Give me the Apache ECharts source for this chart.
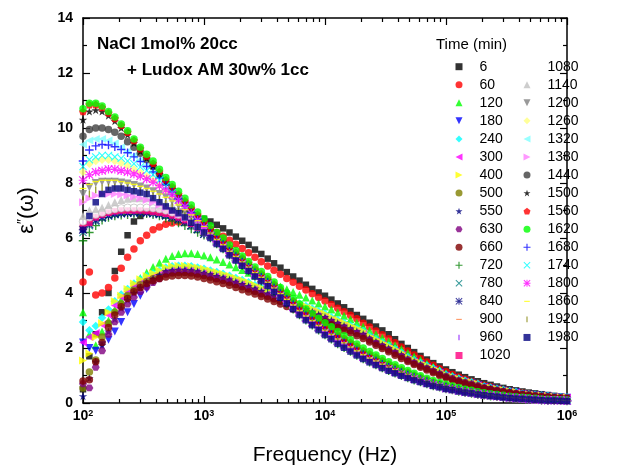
<!DOCTYPE html>
<html><head><meta charset="utf-8">
<script src="https://cdn.jsdelivr.net/npm/echarts@6/dist/echarts.min.js"></script>
<style>html,body{margin:0;padding:0;background:#fff}#c{width:618px;height:471px}</style>
</head><body><div id="c"></div>
<script>
const freqHz = [100,112.9,127.4,143.8,162.4,183.3,206.9,233.6,263.7,297.6,336,379.3,428.1,483.3,545.5,615.8,695.2,784.7,885.8,
1000,1129,1274,1438,1624,1833,2069,2336,2637,2976,3360,3793,4281,4833,5455,6158,6952,7847,8858,
10000,11290,12740,14380,16240,18330,20690,23360,26370,29760,33600,37930,42810,48330,54550,61580,69520,78470,88580,
100000,112900,127400,143800,162400,183300,206900,233600,263700,297600,336000,379300,428100,483300,545500,615800,695200,784700,885800,
1000000];
const xTickLabels = [100,1000,10000,100000,1000000];
const xMinorTicks = [200,300,400,500,600,700,800,900,2000,3000,4000,5000,6000,7000,8000,9000,20000,30000,40000,50000,60000,70000,80000,90000,200000,300000,400000,500000,600000,700000,800000,900000];
const timeLegendCol1 = ['6','60','120','180','240','300','400','500','550','630','660','720','780','840','900','960','1020'];
const timeLegendCol2 = ['1080','1140','1200','1260','1320','1380','1440','1500','1560','1620','1680','1740','1800','1860','1920','1980'];

const t6 = [0.5,1.7,2.5,3.3,4.0,4.8,5.5,6.1,6.6,6.8,6.95,7.0,7.0,7.0,6.98,6.95,6.9,6.85,6.78,6.7,6.6,6.48,6.35,6.2,6.05,5.9,5.75,5.58,5.42,5.25,5.08,4.92,4.76,4.6,4.45,4.3,4.15,4.02,3.9,3.76,3.62,3.48,3.34,3.2,3.06,2.92,2.78,2.64,2.5,2.32,2.15,2.0,1.85,1.71,1.58,1.45,1.33,1.22,1.12,1.03,0.94,0.86,0.79,0.72,0.66,0.6,0.55,0.5,0.46,0.42,0.38,0.35,0.32,0.29,0.26,0.23,0.21];
const t60 = [4.4,4.76,3.93,4.0,4.2,4.55,4.9,5.3,5.6,5.9,6.1,6.3,6.4,6.5,6.55,6.58,6.58,6.55,6.5,6.42,6.32,6.2,6.06,5.92,5.77,5.62,5.46,5.3,5.14,4.98,4.83,4.68,4.53,4.39,4.25,4.11,3.97,3.84,3.71,3.58,3.45,3.32,3.19,3.06,2.9,2.76,2.62,2.48,2.34,2.19,2.04,1.89,1.75,1.62,1.49,1.37,1.25,1.14,1.04,0.95,0.86,0.78,0.71,0.65,0.59,0.53,0.48,0.44,0.4,0.36,0.33,0.3,0.27,0.25,0.22,0.2,0.18];
const t120 = [3.3,2.5,2.1,2.6,3.0,3.4,3.75,4.05,4.3,4.55,4.75,4.95,5.1,5.25,5.35,5.42,5.45,5.45,5.42,5.36,5.3,5.22,5.13,5.04,4.94,4.84,4.74,4.64,4.54,4.44,4.34,4.24,4.14,4.04,3.94,3.84,3.73,3.62,3.51,3.4,3.29,3.17,3.05,2.92,2.78,2.64,2.5,2.37,2.24,2.1,1.96,1.82,1.69,1.56,1.44,1.32,1.2,1.09,0.99,0.9,0.82,0.74,0.67,0.61,0.55,0.5,0.45,0.41,0.37,0.34,0.31,0.28,0.25,0.23,0.21,0.19,0.17];
const t180 = [2.2,2.0,1.9,2.1,2.3,2.6,2.95,3.3,3.6,3.9,4.15,4.4,4.6,4.79,4.83,4.85,4.85,4.83,4.79,4.74,4.68,4.62,4.56,4.49,4.41,4.33,4.25,4.16,4.07,3.98,3.89,3.8,3.71,3.6,3.5,3.41,3.32,3.22,3.13,3.01,2.91,2.81,2.71,2.61,2.51,2.35,2.23,2.11,1.99,1.87,1.75,1.61,1.5,1.4,1.3,1.2,1.1,0.99,0.91,0.84,0.77,0.71,0.65,0.58,0.53,0.49,0.45,0.41,0.38,0.33,0.3,0.28,0.26,0.24,0.22,0.2,0.19];
const t240 = [2.95,2.65,2.8,3.1,3.4,3.7,3.95,4.15,4.35,4.5,4.62,4.72,4.82,4.93,4.97,4.99,4.99,4.97,4.93,4.88,4.82,4.76,4.7,4.63,4.55,4.47,4.39,4.29,4.2,4.11,4.02,3.93,3.84,3.72,3.62,3.53,3.44,3.34,3.25,3.12,3.02,2.92,2.82,2.72,2.62,2.44,2.32,2.2,2.08,1.96,1.84,1.67,1.56,1.46,1.36,1.26,1.16,1.04,0.96,0.89,0.82,0.76,0.7,0.61,0.56,0.52,0.48,0.44,0.41,0.35,0.32,0.3,0.28,0.26,0.24,0.22,0.21];
const t300 = [2.2,2.4,2.55,2.85,3.2,3.55,3.85,4.05,4.25,4.4,4.52,4.62,4.7,4.79,4.83,4.85,4.85,4.83,4.79,4.74,4.68,4.62,4.56,4.49,4.41,4.33,4.25,4.16,4.07,3.98,3.89,3.8,3.71,3.6,3.5,3.41,3.32,3.22,3.13,3.01,2.91,2.81,2.71,2.61,2.51,2.35,2.23,2.11,1.99,1.87,1.75,1.61,1.5,1.4,1.3,1.2,1.1,0.99,0.91,0.84,0.77,0.71,0.65,0.58,0.53,0.49,0.45,0.41,0.38,0.33,0.3,0.28,0.26,0.24,0.22,0.2,0.19];
const t400 = [1.55,1.8,2.4,2.9,3.3,3.7,3.9,4.15,4.35,4.5,4.62,4.72,4.82,4.93,4.97,4.99,4.99,4.97,4.93,4.88,4.82,4.76,4.7,4.63,4.55,4.47,4.39,4.29,4.2,4.11,4.02,3.93,3.84,3.72,3.62,3.53,3.44,3.34,3.25,3.12,3.02,2.92,2.82,2.72,2.62,2.44,2.32,2.2,2.08,1.96,1.84,1.67,1.56,1.46,1.36,1.26,1.16,1.04,0.96,0.89,0.82,0.76,0.7,0.61,0.56,0.52,0.48,0.44,0.41,0.35,0.32,0.3,0.28,0.26,0.24,0.22,0.21];
const t500 = [0.55,1.13,1.56,2.4,2.9,3.3,3.6,3.9,4.1,4.3,4.42,4.52,4.6,4.69,4.73,4.75,4.75,4.73,4.69,4.64,4.58,4.52,4.46,4.39,4.31,4.23,4.15,4.06,3.97,3.88,3.79,3.7,3.61,3.51,3.41,3.32,3.23,3.13,3.04,2.93,2.83,2.73,2.63,2.53,2.43,2.29,2.17,2.05,1.93,1.81,1.69,1.56,1.45,1.35,1.25,1.15,1.05,0.96,0.88,0.81,0.74,0.68,0.62,0.55,0.5,0.46,0.42,0.38,0.35,0.32,0.29,0.27,0.25,0.23,0.21,0.19,0.18];
const t550 = [0.25,0.9,1.5,2.1,2.6,3.05,3.45,3.75,4.0,4.2,4.38,4.52,4.65,4.79,4.83,4.85,4.85,4.83,4.79,4.74,4.68,4.62,4.56,4.49,4.41,4.33,4.25,4.16,4.07,3.98,3.89,3.8,3.71,3.6,3.5,3.41,3.32,3.22,3.13,3.01,2.91,2.81,2.71,2.61,2.51,2.35,2.23,2.11,1.99,1.87,1.75,1.61,1.5,1.4,1.3,1.2,1.1,0.99,0.91,0.84,0.77,0.71,0.65,0.58,0.53,0.49,0.45,0.41,0.38,0.33,0.3,0.28,0.26,0.24,0.22,0.2,0.19];
const t630 = [0.7,0.55,1.3,1.9,2.5,2.95,3.3,3.6,3.85,4.05,4.22,4.38,4.52,4.69,4.73,4.75,4.75,4.73,4.69,4.64,4.58,4.52,4.46,4.39,4.31,4.23,4.15,4.06,3.97,3.88,3.79,3.7,3.61,3.51,3.41,3.32,3.23,3.13,3.04,2.93,2.83,2.73,2.63,2.53,2.43,2.29,2.17,2.05,1.93,1.81,1.69,1.56,1.45,1.35,1.25,1.15,1.05,0.96,0.88,0.81,0.74,0.68,0.62,0.55,0.5,0.46,0.42,0.38,0.35,0.32,0.29,0.27,0.25,0.23,0.21,0.19,0.18];
const t660 = [0.8,0.85,1.5,2.2,2.75,3.2,3.5,3.8,4.05,4.2,4.35,4.45,4.53,4.58,4.62,4.64,4.64,4.62,4.58,4.53,4.47,4.41,4.35,4.28,4.2,4.12,4.04,3.96,3.87,3.78,3.69,3.6,3.51,3.42,3.32,3.23,3.14,3.04,2.95,2.85,2.75,2.65,2.55,2.45,2.35,2.22,2.1,1.98,1.86,1.74,1.62,1.51,1.4,1.3,1.2,1.1,1.0,0.92,0.84,0.77,0.7,0.64,0.58,0.53,0.48,0.44,0.4,0.36,0.33,0.3,0.27,0.25,0.23,0.21,0.19,0.17,0.16];
const t720 = [5.9,6.2,6.45,6.65,6.75,6.8,6.83,6.85,6.87,6.88,6.88,6.85,6.8,6.72,6.62,6.55,6.45,6.33,6.2,6.1,6.0,5.78,5.6,5.37,5.18,4.99,4.8,4.6,4.43,4.25,4.04,3.83,3.62,3.41,3.2,3.01,2.83,2.65,2.47,2.32,2.15,2.01,1.87,1.73,1.6,1.48,1.38,1.27,1.17,1.08,0.99,0.91,0.83,0.76,0.69,0.62,0.57,0.51,0.47,0.42,0.38,0.35,0.31,0.28,0.25,0.23,0.2,0.18,0.16,0.15,0.13,0.12,0.1,0.09,0.09,0.08,0.07];
const t780 = [6.2,6.45,6.6,6.72,6.8,6.85,6.88,6.9,6.91,6.91,6.9,6.88,6.85,6.8,6.74,6.66,6.56,6.44,6.3,6.14,6.09,5.86,5.68,5.45,5.25,5.06,4.87,4.67,4.5,4.32,4.11,3.9,3.7,3.49,3.28,3.09,2.91,2.74,2.56,2.41,2.24,2.1,1.96,1.81,1.68,1.56,1.45,1.34,1.24,1.14,1.05,0.96,0.88,0.81,0.73,0.66,0.61,0.54,0.5,0.45,0.4,0.37,0.33,0.3,0.27,0.25,0.22,0.19,0.17,0.16,0.14,0.13,0.11,0.1,0.1,0.09,0.08];
const t840 = [6.3,6.5,6.65,6.75,6.82,6.87,6.9,6.92,6.93,6.93,6.92,6.9,6.87,6.82,6.76,6.68,6.58,6.46,6.32,6.15,6.09,5.86,5.68,5.45,5.25,5.06,4.87,4.67,4.5,4.32,4.11,3.9,3.7,3.49,3.28,3.09,2.91,2.74,2.56,2.41,2.24,2.1,1.96,1.81,1.68,1.56,1.45,1.34,1.24,1.14,1.05,0.96,0.88,0.81,0.73,0.66,0.61,0.54,0.5,0.45,0.4,0.37,0.33,0.3,0.27,0.25,0.22,0.19,0.17,0.16,0.14,0.13,0.11,0.1,0.1,0.09,0.08];
const t900 = [6.45,6.6,6.72,6.8,6.86,6.9,6.93,6.95,6.96,6.96,6.95,6.93,6.9,6.85,6.79,6.71,6.61,6.49,6.34,6.17,6.09,5.86,5.68,5.45,5.25,5.06,4.87,4.67,4.5,4.32,4.11,3.9,3.7,3.49,3.28,3.09,2.91,2.74,2.56,2.41,2.24,2.1,1.96,1.81,1.68,1.56,1.45,1.34,1.24,1.14,1.05,0.96,0.88,0.81,0.73,0.66,0.61,0.54,0.5,0.45,0.4,0.37,0.33,0.3,0.27,0.25,0.22,0.19,0.17,0.16,0.14,0.13,0.11,0.1,0.1,0.09,0.08];
const t960 = [6.5,6.65,6.75,6.82,6.88,6.92,6.95,6.97,6.98,6.98,6.97,6.95,6.92,6.88,6.82,6.74,6.64,6.52,6.36,6.18,6.09,5.86,5.68,5.45,5.25,5.06,4.87,4.67,4.5,4.32,4.11,3.9,3.7,3.49,3.28,3.09,2.91,2.74,2.56,2.41,2.24,2.1,1.96,1.81,1.68,1.56,1.45,1.34,1.24,1.14,1.05,0.96,0.88,0.81,0.73,0.66,0.61,0.54,0.5,0.45,0.4,0.37,0.33,0.3,0.27,0.25,0.22,0.19,0.17,0.16,0.14,0.13,0.11,0.1,0.1,0.09,0.08];
const t1020 = [6.4,6.55,6.75,6.85,6.92,6.97,7.0,7.0,7.0,7.0,6.98,6.95,6.92,6.88,6.82,6.75,6.65,6.52,6.38,6.22,6.18,5.95,5.76,5.52,5.33,5.13,4.94,4.74,4.57,4.39,4.18,3.98,3.77,3.57,3.36,3.17,3.0,2.82,2.65,2.5,2.33,2.19,2.04,1.9,1.76,1.64,1.53,1.41,1.3,1.2,1.11,1.02,0.93,0.85,0.77,0.7,0.64,0.58,0.53,0.48,0.43,0.39,0.35,0.32,0.29,0.26,0.23,0.21,0.19,0.17,0.15,0.14,0.12,0.11,0.11,0.1,0.09];
const t1080 = [6.6,6.75,6.85,6.92,7.0,7.05,7.08,7.1,7.1,7.1,7.1,7.08,7.05,7.0,6.93,6.85,6.75,6.6,6.42,6.22,6.09,5.86,5.68,5.45,5.25,5.06,4.87,4.67,4.5,4.32,4.11,3.9,3.7,3.49,3.28,3.09,2.91,2.74,2.56,2.41,2.24,2.1,1.96,1.81,1.68,1.56,1.45,1.34,1.24,1.14,1.05,0.96,0.88,0.81,0.73,0.66,0.61,0.54,0.5,0.45,0.4,0.37,0.33,0.3,0.27,0.25,0.22,0.19,0.17,0.16,0.14,0.13,0.11,0.1,0.1,0.09,0.08];
const t1140 = [6.8,7.0,7.05,7.1,7.2,7.3,7.38,7.43,7.45,7.45,7.45,7.42,7.38,7.3,7.2,7.07,6.92,6.74,6.54,6.32,6.09,5.86,5.68,5.45,5.25,5.06,4.87,4.67,4.5,4.32,4.11,3.9,3.7,3.49,3.28,3.09,2.91,2.74,2.56,2.41,2.24,2.1,1.96,1.81,1.68,1.56,1.45,1.34,1.24,1.14,1.05,0.96,0.88,0.81,0.73,0.66,0.61,0.54,0.5,0.45,0.4,0.37,0.33,0.3,0.27,0.25,0.22,0.19,0.17,0.16,0.14,0.13,0.11,0.1,0.1,0.09,0.08];
const t1200 = [7.6,7.85,8.0,8.05,8.05,8.05,8.02,7.98,7.93,7.87,7.8,7.7,7.6,7.48,7.34,7.18,7.0,6.8,6.58,6.35,6.09,5.86,5.68,5.45,5.25,5.06,4.87,4.67,4.5,4.32,4.11,3.9,3.7,3.49,3.28,3.09,2.91,2.74,2.56,2.41,2.24,2.1,1.96,1.81,1.68,1.56,1.45,1.34,1.24,1.14,1.05,0.96,0.88,0.81,0.73,0.66,0.61,0.54,0.5,0.45,0.4,0.37,0.33,0.3,0.27,0.25,0.22,0.19,0.17,0.16,0.14,0.13,0.11,0.1,0.1,0.09,0.08];
const t1260 = [8.4,8.7,8.8,8.85,8.85,8.8,8.72,8.62,8.5,8.38,8.25,8.1,7.93,7.75,7.55,7.35,7.12,6.9,6.66,6.43,6.18,5.95,5.76,5.52,5.33,5.13,4.94,4.74,4.57,4.39,4.18,3.98,3.77,3.57,3.36,3.17,3.0,2.82,2.65,2.5,2.33,2.19,2.04,1.9,1.76,1.64,1.53,1.41,1.3,1.2,1.11,1.02,0.93,0.85,0.77,0.7,0.64,0.58,0.53,0.48,0.43,0.39,0.35,0.32,0.29,0.26,0.23,0.21,0.19,0.17,0.15,0.14,0.12,0.11,0.11,0.1,0.09];
const t1320 = [9.4,9.55,9.6,9.6,9.55,9.45,9.3,9.15,9.0,8.85,8.65,8.45,8.2,7.95,7.7,7.45,7.2,6.95,6.7,6.45,6.18,5.95,5.76,5.52,5.33,5.13,4.94,4.74,4.57,4.39,4.18,3.98,3.77,3.57,3.36,3.17,3.0,2.82,2.65,2.5,2.33,2.19,2.04,1.9,1.76,1.64,1.53,1.41,1.3,1.2,1.11,1.02,0.93,0.85,0.77,0.7,0.64,0.58,0.53,0.48,0.43,0.39,0.35,0.32,0.29,0.26,0.23,0.21,0.19,0.17,0.15,0.14,0.12,0.11,0.11,0.1,0.09];
const t1380 = [7.3,7.45,7.55,7.6,7.6,7.6,7.58,7.55,7.5,7.45,7.38,7.3,7.2,7.1,6.98,6.85,6.72,6.58,6.42,6.25,6.18,5.95,5.76,5.52,5.33,5.13,4.94,4.74,4.57,4.39,4.18,3.98,3.77,3.57,3.36,3.17,3.0,2.82,2.65,2.5,2.33,2.19,2.04,1.9,1.76,1.64,1.53,1.41,1.3,1.2,1.11,1.02,0.93,0.85,0.77,0.7,0.64,0.58,0.53,0.48,0.43,0.39,0.35,0.32,0.29,0.26,0.23,0.21,0.19,0.17,0.15,0.14,0.12,0.11,0.11,0.1,0.09];
const t1440 = [9.7,9.95,10.0,10.0,9.95,9.85,9.7,9.5,9.3,9.08,8.85,8.6,8.32,8.03,7.78,7.52,7.27,7.02,6.76,6.52,6.27,6.03,5.84,5.6,5.4,5.21,5.01,4.81,4.64,4.46,4.26,4.05,3.85,3.64,3.44,3.26,3.08,2.91,2.74,2.59,2.42,2.27,2.13,1.98,1.84,1.71,1.6,1.48,1.37,1.27,1.16,1.07,0.98,0.9,0.82,0.74,0.68,0.61,0.56,0.5,0.45,0.42,0.37,0.33,0.3,0.28,0.25,0.22,0.2,0.19,0.17,0.15,0.13,0.12,0.11,0.1,0.09];
const t1500 = [10.3,10.6,10.65,10.6,10.45,10.25,10.0,9.75,9.45,9.15,8.9,8.62,8.33,8.03,7.78,7.52,7.27,7.02,6.76,6.52,6.27,6.03,5.84,5.6,5.4,5.21,5.01,4.81,4.64,4.46,4.26,4.05,3.85,3.64,3.44,3.26,3.08,2.91,2.74,2.59,2.42,2.27,2.13,1.98,1.84,1.71,1.6,1.48,1.37,1.27,1.16,1.07,0.98,0.9,0.82,0.74,0.68,0.61,0.56,0.5,0.45,0.42,0.37,0.33,0.3,0.28,0.25,0.22,0.2,0.19,0.17,0.15,0.13,0.12,0.11,0.1,0.09];
const t1560 = [10.6,10.85,10.85,10.75,10.55,10.35,10.1,9.85,9.55,9.25,8.98,8.72,8.42,8.12,7.87,7.6,7.35,7.1,6.85,6.6,6.36,6.12,5.92,5.67,5.48,5.28,5.08,4.88,4.71,4.53,4.33,4.13,3.92,3.72,3.52,3.34,3.17,2.99,2.83,2.68,2.51,2.36,2.21,2.07,1.92,1.79,1.68,1.55,1.43,1.33,1.22,1.13,1.03,0.94,0.86,0.78,0.71,0.65,0.59,0.53,0.48,0.44,0.39,0.35,0.32,0.29,0.26,0.24,0.22,0.2,0.18,0.16,0.14,0.13,0.12,0.11,0.1];
const t1620 = [10.7,10.9,10.9,10.8,10.6,10.4,10.15,9.9,9.6,9.3,9.05,8.8,8.5,8.2,7.95,7.7,7.45,7.2,6.95,6.7,6.45,6.2,6.0,5.75,5.55,5.35,5.15,4.95,4.78,4.6,4.4,4.2,4.0,3.8,3.6,3.42,3.25,3.08,2.92,2.77,2.6,2.45,2.3,2.15,2.0,1.87,1.75,1.62,1.5,1.39,1.28,1.18,1.08,0.99,0.9,0.82,0.75,0.68,0.62,0.56,0.5,0.46,0.41,0.37,0.34,0.31,0.28,0.25,0.23,0.21,0.19,0.17,0.15,0.14,0.13,0.12,0.11];
const t1680 = [8.8,9.2,9.35,9.4,9.38,9.32,9.22,9.1,8.95,8.78,8.6,8.4,8.18,7.93,7.67,7.42,7.17,6.92,6.68,6.44,6.18,5.95,5.76,5.52,5.33,5.13,4.94,4.74,4.57,4.39,4.18,3.98,3.77,3.57,3.36,3.17,3.0,2.82,2.65,2.5,2.33,2.19,2.04,1.9,1.76,1.64,1.53,1.41,1.3,1.2,1.11,1.02,0.93,0.85,0.77,0.7,0.64,0.58,0.53,0.48,0.43,0.39,0.35,0.32,0.29,0.26,0.23,0.21,0.19,0.17,0.15,0.14,0.12,0.11,0.11,0.1,0.09];
const t1740 = [8.6,8.85,8.95,9.0,9.0,8.95,8.9,8.8,8.7,8.58,8.45,8.3,8.1,7.88,7.65,7.4,7.15,6.9,6.64,6.38,6.09,5.86,5.68,5.45,5.25,5.06,4.87,4.67,4.5,4.32,4.11,3.9,3.7,3.49,3.28,3.09,2.91,2.74,2.56,2.41,2.24,2.1,1.96,1.81,1.68,1.56,1.45,1.34,1.24,1.14,1.05,0.96,0.88,0.81,0.73,0.66,0.61,0.54,0.5,0.45,0.4,0.37,0.33,0.3,0.27,0.25,0.22,0.19,0.17,0.16,0.14,0.13,0.11,0.1,0.1,0.09,0.08];
const t1800 = [8.1,8.3,8.4,8.45,8.5,8.5,8.45,8.4,8.33,8.25,8.15,8.03,7.9,7.75,7.58,7.38,7.15,6.9,6.64,6.38,6.09,5.86,5.68,5.45,5.25,5.06,4.87,4.67,4.5,4.32,4.11,3.9,3.7,3.49,3.28,3.09,2.91,2.74,2.56,2.41,2.24,2.1,1.96,1.81,1.68,1.56,1.45,1.34,1.24,1.14,1.05,0.96,0.88,0.81,0.73,0.66,0.61,0.54,0.5,0.45,0.4,0.37,0.33,0.3,0.27,0.25,0.22,0.19,0.17,0.16,0.14,0.13,0.11,0.1,0.1,0.09,0.08];
const t1860 = [7.8,7.95,8.05,8.1,8.1,8.1,8.05,8.0,7.95,7.88,7.8,7.7,7.6,7.48,7.35,7.2,7.03,6.84,6.63,6.42,6.18,5.95,5.76,5.52,5.33,5.13,4.94,4.74,4.57,4.39,4.18,3.98,3.77,3.57,3.36,3.17,3.0,2.82,2.65,2.5,2.33,2.19,2.04,1.9,1.76,1.64,1.53,1.41,1.3,1.2,1.11,1.02,0.93,0.85,0.77,0.7,0.64,0.58,0.53,0.48,0.43,0.39,0.35,0.32,0.29,0.26,0.23,0.21,0.19,0.17,0.15,0.14,0.12,0.11,0.11,0.1,0.09];
const t1920 = [7.4,7.6,7.75,7.82,7.85,7.85,7.83,7.8,7.75,7.7,7.62,7.52,7.4,7.27,7.13,6.98,6.8,6.6,6.4,6.2,6.09,5.86,5.68,5.45,5.25,5.06,4.87,4.67,4.5,4.32,4.11,3.9,3.7,3.49,3.28,3.09,2.91,2.74,2.56,2.41,2.24,2.1,1.96,1.81,1.68,1.56,1.45,1.34,1.24,1.14,1.05,0.96,0.88,0.81,0.73,0.66,0.61,0.54,0.5,0.45,0.4,0.37,0.33,0.3,0.27,0.25,0.22,0.19,0.17,0.16,0.14,0.13,0.11,0.1,0.1,0.09,0.08];
const t1980 = [6.3,6.8,7.3,7.6,7.75,7.8,7.8,7.75,7.7,7.65,7.6,7.45,7.3,7.15,7.0,6.9,6.75,6.55,6.4,6.2,6.0,5.78,5.6,5.37,5.18,4.99,4.8,4.6,4.43,4.25,4.04,3.83,3.62,3.41,3.2,3.01,2.83,2.65,2.47,2.32,2.15,2.01,1.87,1.73,1.6,1.48,1.38,1.27,1.17,1.08,0.99,0.91,0.83,0.76,0.69,0.62,0.57,0.51,0.47,0.42,0.38,0.35,0.31,0.28,0.25,0.23,0.2,0.18,0.16,0.15,0.13,0.12,0.1,0.09,0.09,0.08,0.07];

const valuesByTime = {'6':t6,'60':t60,'120':t120,'180':t180,'240':t240,'300':t300,'400':t400,'500':t500,'550':t550,'630':t630,'660':t660,'720':t720,'780':t780,'840':t840,'900':t900,'960':t960,'1020':t1020,'1080':t1080,'1140':t1140,'1200':t1200,'1260':t1260,'1320':t1320,'1380':t1380,'1440':t1440,'1500':t1500,'1560':t1560,'1620':t1620,'1680':t1680,'1740':t1740,'1800':t1800,'1860':t1860,'1920':t1920,'1980':t1980};

const TRI_UP = 'path://M5,0L10,10L0,10Z';
const TRI_DN = 'path://M0,0L10,0L5,10Z';
const TRI_LT = 'path://M10,0L10,10L0,5Z';
const TRI_RT = 'path://M0,0L10,5L0,10Z';
const STAR = 'path://M5,0L6.2,3.6L10,3.6L6.9,5.9L8.1,9.5L5,7.3L1.9,9.5L3.1,5.9L0,3.6L3.8,3.6Z';
const HEX = 'path://M0,0M10,10M2.5,0.7L7.5,0.7L10,5L7.5,9.3L2.5,9.3L0,5Z';
const PENT = 'path://M5,0L10,3.8L8.1,9.5L1.9,9.5L0,3.8Z';
const PLUS = 'path://M4.2,0L5.8,0L5.8,4.2L10,4.2L10,5.8L5.8,5.8L5.8,10L4.2,10L4.2,5.8L0,5.8L0,4.2L4.2,4.2Z';
const XMARK = 'path://M1,0L5,4L9,0L10,1L6,5L10,9L9,10L5,6L1,10L0,9L4,5L0,1Z';
const ASTER = 'path://M4.3,0L5.7,0L5.7,4.3L10,4.3L10,5.7L5.7,5.7L5.7,10L4.3,10L4.3,5.7L0,5.7L0,4.3L4.3,4.3ZM1,0L5,4L9,0L10,1L6,5L10,9L9,10L5,6L1,10L0,9L4,5L0,1Z';
const DASH = 'path://M0,0M10,10M1,4.2L9,4.2L9,5.8L1,5.8Z';
const VBAR = 'path://M0,0M10,10M4.2,1L5.8,1L5.8,9L4.2,9Z';

const styleByTime = {
  '6':['rect','#000000',6.5], '60':['circle','#ff0000',7.5], '120':[TRI_UP,'#00ff00',8],
  '180':[TRI_DN,'#0000ff',8], '240':['diamond','#00ffff',8.5], '300':[TRI_LT,'#ff00ff',8],
  '400':[TRI_RT,'#ffff00',8], '500':['circle','#808000',7.5], '550':[STAR,'#000080',8.5],
  '630':[HEX,'#800080',8], '660':['circle','#800000',7.5], '720':[PLUS,'#008000',8.5],
  '780':[XMARK,'#008080',8], '840':[ASTER,'#000080',8.5], '900':[DASH,'#ff8040',8.5],
  '960':[VBAR,'#8000ff',8.5], '1020':['rect','#ff0080',6.5], '1080':['circle','#ffffff',7.5],
  '1140':[TRI_UP,'#c0c0c0',8], '1200':[TRI_DN,'#808080',8], '1260':['diamond','#ffff80',8.5],
  '1320':[TRI_LT,'#80ffff',8], '1380':[TRI_RT,'#ff80ff',8], '1440':['circle','#404040',7.5],
  '1500':[STAR,'#000000',8.5], '1560':[PENT,'#ff0000',8], '1620':['circle','#00ff00',7.5],
  '1680':[PLUS,'#0000ff',8.5], '1740':[XMARK,'#00ffff',8], '1800':[ASTER,'#ff00ff',8.5],
  '1860':[DASH,'#ffff00',8.5], '1920':[VBAR,'#808000',8.5], '1980':['rect','#000080',6.5]
};

const FF = 'Arial, "Liberation Sans", sans-serif';
const allTimes = timeLegendCol1.concat(timeLegendCol2);
const series = allTimes.map(name => {
  const st = styleByTime[name];
  const vals = valuesByTime[name];
  const s = {
    name: name, type: 'scatter', xAxisIndex: 0, yAxisIndex: 0,
    symbol: st[0], symbolSize: st[2], symbolKeepAspect: true,
    itemStyle: { color: st[1] },
    data: freqHz.map((f, i) => [f, vals[i]]),
    emphasis: { disabled: true }
  };
  if (name === '1080') s.itemStyle = { color: '#ffffff', borderColor: '#a8a8a8', borderWidth: 0.7 };
  return s;
});

const legendItems = list => list.map(n => n === '1080' ? { name: n, itemStyle: { borderWidth: 0, color: '#ffffff' } } : { name: n });
const legendCommon = {
  orient: 'vertical', padding: 0, itemWidth: 7, itemHeight: 7, itemGap: 4.05,
  selectedMode: false, symbolKeepAspect: true,
  textStyle: { fontFamily: FF, fontSize: 14, color: '#000', lineHeight: 14, padding: [0, 0, 0, 12] }
};

const axisLine = { show: true, lineStyle: { color: '#000', width: 1.5 } };
const tickStyle = { color: '#000', width: 1.2 };

const chart = echarts.init(document.getElementById('c'), null, { renderer: 'canvas', devicePixelRatio: 1 });
chart.setOption({
  animation: false,
  backgroundColor: '#ffffff',
  title: [
    { text: 'NaCl 1mol% 20cc', left: 97, top: 36, padding: 0, textStyle: { fontFamily: FF, fontSize: 17, fontWeight: 'bold', color: '#000' } },
    { text: '+ Ludox AM 30w% 1cc', left: 127, top: 62, padding: 0, textStyle: { fontFamily: FF, fontSize: 17, fontWeight: 'bold', color: '#000' } },
    { text: 'Time (min)', left: 436, top: 37, padding: 0, textStyle: { fontFamily: FF, fontSize: 15, fontWeight: 'normal', color: '#000' } }
  ],
  legend: [
    Object.assign({}, legendCommon, { data: legendItems(timeLegendCol1), left: 455.5, top: 59.7 }),
    Object.assign({}, legendCommon, { data: legendItems(timeLegendCol2), left: 523.5, top: 59.7 })
  ],
  grid: { left: 83, right: 51, top: 18, bottom: 68, containLabel: false },
  xAxis: [
    { type: 'log', logBase: 10, min: 100, max: 1000000, position: 'bottom',
      name: 'Frequency (Hz)', nameLocation: 'middle', nameGap: 42,
      nameTextStyle: { fontFamily: FF, fontSize: 21, color: '#000' },
      axisLine: axisLine,
      axisTick: { show: true, inside: true, length: 7, lineStyle: tickStyle, customValues: xTickLabels },
      axisLabel: { show: true, margin: 6, customValues: xTickLabels,
        formatter: v => '{b|10}{s|' + Math.round(Math.log10(v)) + '}',
        rich: {
          b: { fontFamily: FF, fontSize: 14, fontWeight: 'bold', color: '#000', lineHeight: 14, padding: [2, 0, 0, 0], verticalAlign: 'bottom' },
          s: { fontFamily: FF, fontSize: 9, fontWeight: 'bold', color: '#000', lineHeight: 9, verticalAlign: 'top' }
        } },
      splitLine: { show: false }, minorTick: { show: false }, minorSplitLine: { show: false } },
    { type: 'log', logBase: 10, min: 100, max: 1000000, position: 'bottom',
      axisLine: { show: false },
      axisTick: { show: true, inside: true, length: 4, lineStyle: tickStyle, customValues: xMinorTicks },
      axisLabel: { show: false }, splitLine: { show: false } },
    { type: 'log', logBase: 10, min: 100, max: 1000000, position: 'top',
      axisLine: axisLine,
      axisTick: { show: true, inside: true, length: 7, lineStyle: tickStyle, customValues: xTickLabels },
      axisLabel: { show: false }, splitLine: { show: false } },
    { type: 'log', logBase: 10, min: 100, max: 1000000, position: 'top',
      axisLine: { show: false },
      axisTick: { show: true, inside: true, length: 4, lineStyle: tickStyle, customValues: xMinorTicks },
      axisLabel: { show: false }, splitLine: { show: false } }
  ],
  yAxis: [
    { type: 'value', min: 0, max: 14, interval: 2, position: 'left',
      name: '{e|ε}{p|\u2033}{e|(ω)}', nameLocation: 'middle', nameGap: 45, nameRotate: 90,
      nameTextStyle: { rich: {
        e: { fontFamily: FF, fontSize: 22, color: '#000' },
        p: { fontFamily: FF, fontSize: 14, color: '#000', verticalAlign: 'top', lineHeight: 14 } } },
      axisLine: axisLine,
      axisTick: { show: true, inside: true, length: 7, lineStyle: tickStyle },
      minorTick: { show: true, splitNumber: 2, length: 4, lineStyle: tickStyle },
      axisLabel: { show: true, margin: 10, fontFamily: FF, fontSize: 14, fontWeight: 'bold', color: '#000' },
      splitLine: { show: false } },
    { type: 'value', min: 0, max: 14, interval: 2, position: 'right',
      axisLine: axisLine,
      axisTick: { show: true, inside: true, length: 7, lineStyle: tickStyle },
      minorTick: { show: true, splitNumber: 2, length: 4, lineStyle: tickStyle },
      axisLabel: { show: false }, splitLine: { show: false } }
  ],
  series: series
});
</script>
</body></html>
